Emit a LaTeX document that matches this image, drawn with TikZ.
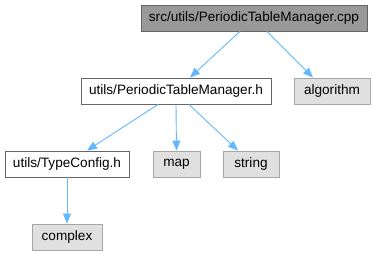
\documentclass[tikz,border=0pt]{standalone}
\usepackage{fontspec}
\setmainfont{Liberation Sans}
\usetikzlibrary{arrows.meta}

\definecolor{edgeblue}{HTML}{63B8FF}
\definecolor{rootgray}{HTML}{999999}
\definecolor{sysgray}{HTML}{E0E0E0}

\begin{document}
\begin{tikzpicture}[x=1pt, y=-1pt, >={Triangle[length=10pt, width=8pt]},
  font=\fontsize{13.6}{16}\selectfont,
  f/.style={draw, inner sep=0pt, minimum height=26pt, line width=0.9pt},
  root/.style={f, fill=rootgray, draw=black!60},
  hdr/.style={f, fill=white, draw=black!60},
  sys/.style={f, fill=sysgray, draw=black!35},
  dep/.style={->, draw=edgeblue, line width=0.9pt}]
\useasboundingbox (0,0) rectangle (375,256);
\node[root, minimum width=226pt] (cpp) at (254,18) {src/utils/PeriodicTableManager.cpp};
\node[hdr, minimum width=190pt] (ptm) at (176,91) {utils/PeriodicTableManager.h};
\node[sys, minimum width=76pt] (algo) at (332,91) {algorithm};
\node[hdr, minimum width=124pt] (tcfg) at (67,164) {utils/TypeConfig.h};
\node[sys, minimum width=47pt] (map) at (176.5,164) {map};
\node[sys, minimum width=56pt] (str) at (251,164) {string};
\node[sys, minimum width=70pt] (cplx) at (67,237) {complex};
% includes
\draw[dep] ([xshift=-14pt]cpp.south) -- ([xshift=14pt]ptm.north);
\draw[dep] ([xshift=13pt]cpp.south) -- ([xshift=-19pt]algo.north);
\draw[dep] ([xshift=-18pt]ptm.south) -- ([xshift=20pt]tcfg.north);
\draw[dep] (ptm.south) -- (map.north);
\draw[dep] ([xshift=13pt]ptm.south) -- ([xshift=-13pt]str.north);
\draw[dep] (tcfg.south) -- (cplx.north);
\end{tikzpicture}
\end{document}
